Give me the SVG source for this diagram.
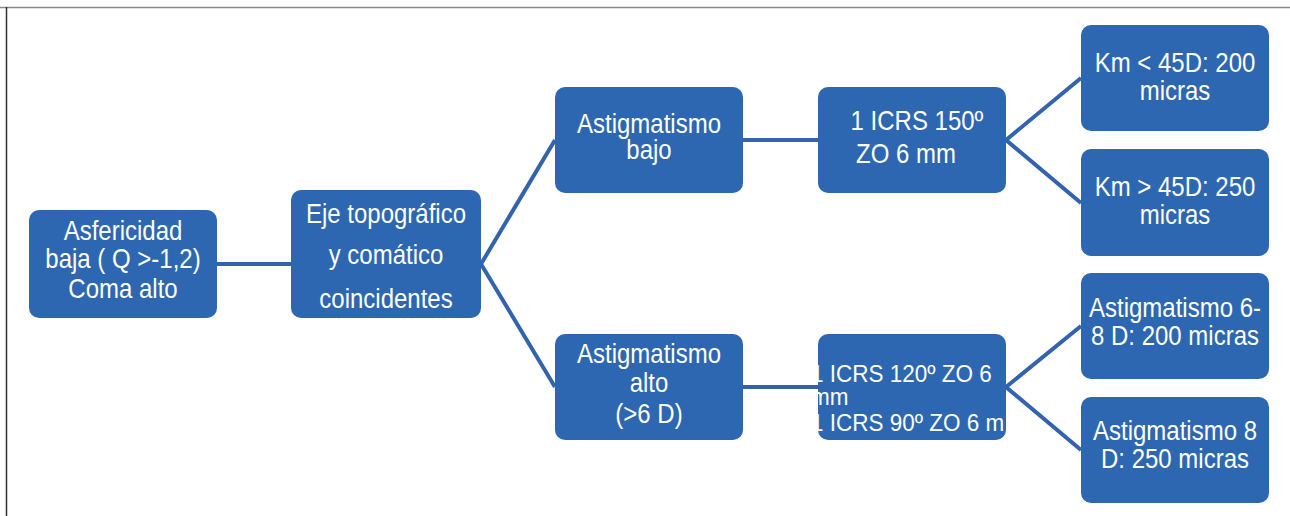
<svg xmlns="http://www.w3.org/2000/svg" width="1290" height="516" viewBox="0 0 1290 516">
<style>
.box{fill:#2E67B1;}
.t{fill:#FFFFFF;font-family:"Liberation Sans",Arial,sans-serif;font-size:24px;text-anchor:middle;}
.tl{fill:#FFFFFF;font-family:"Liberation Sans",Arial,sans-serif;font-size:22.5px;}
.c{stroke:#3163AE;stroke-width:4;fill:none;}
</style>
<defs>
<clipPath id="clipI120"><rect x="818" y="334" width="188" height="106" rx="10"/></clipPath>
</defs>
<rect x="0" y="0" width="1290" height="516" fill="#FFFFFF"/>
<line x1="0" y1="7.5" x2="1290" y2="7.5" stroke="#8A8A8A" stroke-width="1.5"/>
<line x1="6.5" y1="7" x2="6.5" y2="516" stroke="#333333" stroke-width="1.5"/>
<g id="connectors">
<line class="c" x1="217" y1="264" x2="291" y2="264"/>
<polyline class="c" points="555,140 481,264 555,387"/>
<line class="c" x1="743" y1="140" x2="818" y2="140"/>
<line class="c" x1="743" y1="387" x2="818" y2="387"/>
<polyline class="c" points="1081,78 1006,140 1081,203"/>
<polyline class="c" points="1081,326 1006,387 1081,450"/>
</g>
<g id="n1">
<rect class="box" x="29" y="210" width="188" height="108" rx="10"/>
<text class="t" x="123" y="240" transform="matrix(1 0 0 1.12 0 -28.8)">Asfericidad</text>
<text class="t" x="123" y="268" transform="matrix(1 0 0 1.12 0 -32.16)">baja ( Q &gt;-1,2)</text>
<text class="t" x="123" y="298" transform="matrix(1 0 0 1.12 0 -35.76)">Coma alto</text>
</g>
<g id="n2">
<rect class="box" x="291" y="190" width="190" height="128" rx="10"/>
<text class="t" x="386" y="223" transform="matrix(1 0 0 1.12 0 -26.76)">Eje topográfico</text>
<text class="t" x="386" y="264" transform="matrix(1 0 0 1.12 0 -31.68)">y comático</text>
<text class="t" x="386" y="308" transform="matrix(1 0 0 1.12 0 -36.96)">coincidentes</text>
</g>
<g id="n3">
<rect class="box" x="555" y="87" width="188" height="106" rx="10"/>
<text class="t" x="649" y="133" transform="matrix(1 0 0 1.12 0 -15.96)">Astigmatismo</text>
<text class="t" x="649" y="159" transform="matrix(1 0 0 1.12 0 -19.08)">bajo</text>
</g>
<g id="n4">
<rect class="box" x="818" y="87" width="188" height="106" rx="10"/>
<text class="t" x="917" y="130" transform="matrix(1 0 0 1.12 0 -15.6)">1 ICRS 150º</text>
<text class="t" x="906" y="163" transform="matrix(1 0 0 1.12 0 -19.56)">ZO 6 mm</text>
</g>
<g id="n5">
<rect class="box" x="1081" y="25" width="188" height="106" rx="10"/>
<text class="t" x="1175" y="72" transform="matrix(1 0 0 1.12 0 -8.64)">Km &lt; 45D: 200</text>
<text class="t" x="1175" y="100" transform="matrix(1 0 0 1.12 0 -12)">micras</text>
</g>
<g id="n6">
<rect class="box" x="1081" y="149" width="188" height="107" rx="10"/>
<text class="t" x="1175" y="196" transform="matrix(1 0 0 1.12 0 -23.52)">Km &gt; 45D: 250</text>
<text class="t" x="1175" y="224" transform="matrix(1 0 0 1.12 0 -26.88)">micras</text>
</g>
<g id="n7">
<rect class="box" x="555" y="334" width="188" height="106" rx="10"/>
<text class="t" x="649" y="363" transform="matrix(1 0 0 1.12 0 -43.56)">Astigmatismo</text>
<text class="t" x="649" y="392" transform="matrix(1 0 0 1.12 0 -47.04)">alto</text>
<text class="t" x="649" y="423" transform="matrix(1 0 0 1.12 0 -50.76)">(&gt;6 D)</text>
</g>
<g id="n8">
<rect class="box" x="818" y="334" width="188" height="106" rx="10"/>
<g clip-path="url(#clipI120)">
<text class="tl" x="811" y="382" transform="matrix(1 0 0 1.08 0 -30.56)">1 ICRS 120º ZO 6</text>
<text class="tl" x="811" y="405" transform="matrix(1 0 0 1.08 0 -32.4)">mm</text>
<text class="tl" x="811" y="431" transform="matrix(1 0 0 1.08 0 -34.48)">1 ICRS 90º ZO 6 m</text>
</g>
</g>
<g id="n9">
<rect class="box" x="1081" y="273" width="188" height="106" rx="10"/>
<text class="t" x="1175" y="317" transform="matrix(1 0 0 1.12 0 -38.04)">Astigmatismo 6-</text>
<text class="t" x="1175" y="345" transform="matrix(1 0 0 1.12 0 -41.4)">8 D: 200 micras</text>
</g>
<g id="n10">
<rect class="box" x="1081" y="397" width="188" height="106" rx="10"/>
<text class="t" x="1175" y="440" transform="matrix(1 0 0 1.12 0 -52.8)">Astigmatismo 8</text>
<text class="t" x="1175" y="468" transform="matrix(1 0 0 1.12 0 -56.16)">D: 250 micras</text>
</g>
</svg>
